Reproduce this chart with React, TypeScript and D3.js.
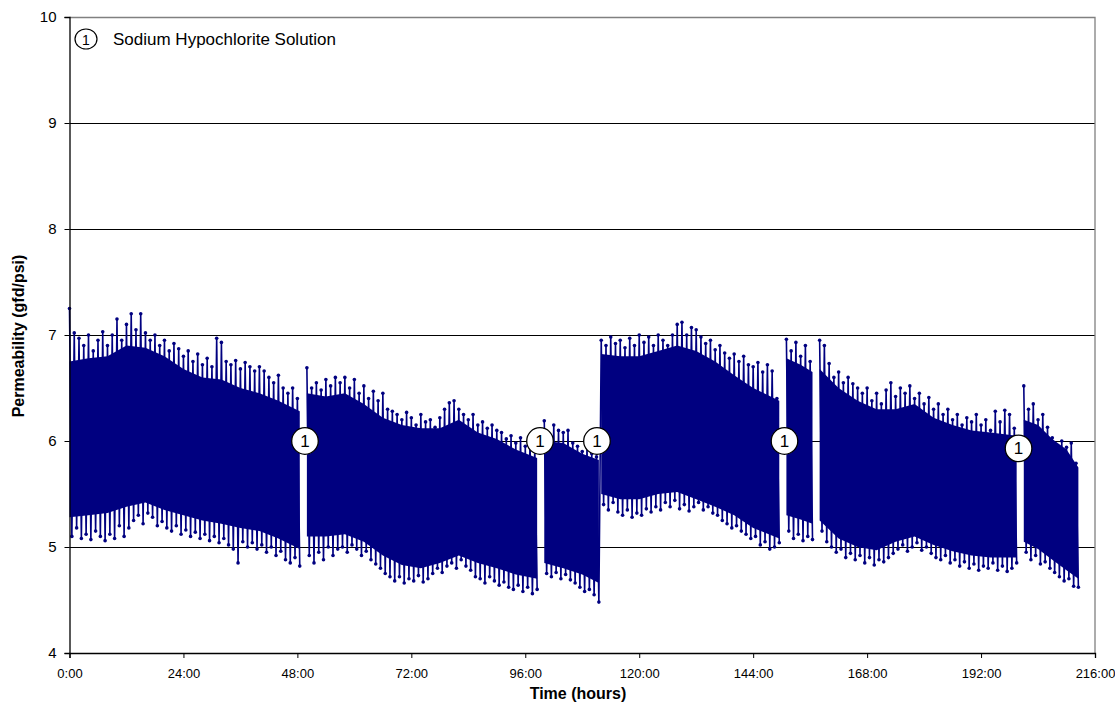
import React from 'react';
import * as d3 from 'd3';

// hourly peak / trough readings (gfd/psi), null = break in the record
const hourHigh = [
  7.25, 7.02, 6.97, 6.9, 7.0, 6.85, 6.95, 7.03, 6.9, 7.0, 7.15, 6.95,
  7.1, 7.2, 7.05, 7.2, 7.02, 6.95, 7.0, 6.9, 6.95, 6.85, 6.92, 6.87,
  6.8, 6.85, 6.75, 6.82, 6.72, 6.78, 6.7, 6.97, 6.93, 6.75, 6.72, 6.76,
  6.68, 6.74, 6.7, 6.66, 6.7, 6.66, 6.6, 6.55, 6.62, 6.5, 6.45, 6.5,
  6.4, null, 6.69, 6.5, 6.55, 6.48, 6.58, 6.52, 6.6, 6.55, 6.6, 6.5,
  6.58, 6.45, 6.52, 6.4, 6.47, 6.38, 6.45, 6.3, 6.28, 6.25, 6.2, 6.27,
  6.22, 6.15, 6.25, 6.18, 6.2, 6.13, 6.22, 6.3, 6.36, 6.38, 6.3, 6.25,
  6.2, 6.25, 6.15, 6.18, 6.12, 6.15, 6.1, 6.08, 6.02, 6.05, 5.98, 6.03,
  5.95, 6.0, 5.94, null, 6.19, 6.05, 6.15, 6.1, 6.08, 6.1, 5.98, 5.95,
  5.9, 5.95, 5.88, 5.85, 6.95, 6.9, 6.98, 6.92, 6.95, 6.88, 6.97, 6.9,
  7.0, 6.93, 6.98, 6.9, 7.0, 6.95, 6.9, 7.0, 7.1, 7.12, 7.0, 7.07,
  7.05, 6.98, 6.92, 6.95, 6.86, 6.9, 6.83, 6.78, 6.82, 6.75, 6.8, 6.72,
  6.7, 6.74, 6.65, 6.72, 6.66, 6.4, null, 6.96, 6.85, 6.93, 6.8, 6.9,
  6.75, null, 6.95, 6.9, 6.73, 6.6, 6.65, 6.55, 6.6, 6.54, 6.5, 6.45,
  6.5, 6.38, 6.45, 6.35, 6.48, 6.55, 6.42, 6.5, 6.45, 6.52, 6.4, 6.45,
  6.35, 6.41, 6.3, 6.35, 6.25, 6.3, 6.2, 6.25, 6.15, 6.22, 6.18, 6.25,
  6.15, 6.2, 6.1, 6.28, 6.18, 6.29, 6.25, 6.12, null, 6.52, 6.3, 6.35,
  6.2, 6.25, 6.13, 6.03, 5.95, 6.0, 5.94, 5.98, 5.79
];

const hourLow = [
  5.1, 5.18, 5.08, 5.12, 5.07, 5.15, 5.1, 5.06, 5.12, 5.08, 5.2, 5.1,
  5.18, 5.25, 5.3, 5.22, 5.32, 5.28, 5.2, 5.24, 5.18, 5.15, 5.2, 5.12,
  5.16, 5.1, 5.14, 5.08, 5.12, 5.06, 5.1, 5.04, 5.08, 5.02, 4.98, 4.85,
  5.05, 5.0, 5.04, 4.98, 5.02, 4.95, 5.0, 4.92, 4.96, 4.88, 4.85, 4.9,
  4.82, null, 4.92, 4.85, 4.95, 4.88, 5.0, 4.92, 4.98, 5.0, 4.95, 5.02,
  4.98, 4.92, 4.96, 4.88, 4.84, 4.8, 4.75, 4.72, 4.68, 4.72, 4.66, 4.7,
  4.68, 4.73, 4.67, 4.7, 4.75, 4.8, 4.76, 4.82, 4.85, 4.8, 4.88, 4.82,
  4.78, 4.72, 4.7, 4.66, 4.72, 4.68, 4.64, 4.67, 4.62, 4.6, 4.64, 4.58,
  4.62, 4.56, 4.6, null, 4.75, 4.72, 4.76, 4.7, 4.74, 4.69, 4.66, 4.62,
  4.58, 4.6, 4.55, 4.48, 5.4, 5.35, 5.42, 5.33, 5.3, 5.35, 5.28, 5.32,
  5.3, 5.36, 5.33, 5.38, 5.35, 5.42, 5.38, 5.44, 5.36, 5.4, 5.34, 5.38,
  5.42, 5.35, 5.38, 5.32, 5.3, 5.25, 5.22, 5.18, 5.2, 5.15, 5.12, 5.08,
  5.1, 5.02, 5.05, 4.98, 5.0, 5.04, null, 5.15, 5.08, 5.12, 5.06, 5.1,
  5.07, null, 5.15, 5.05, 5.0, 4.95, 4.98, 4.9, 4.94, 4.88, 4.92, 4.85,
  4.9, 4.83, 4.88, 4.86, 4.9, 4.94, 4.98, 5.02, 4.96, 5.0, 5.04, 4.97,
  5.0, 4.94, 4.9, 4.88, 4.92, 4.85, 4.88, 4.82, 4.86, 4.8, 4.84, 4.78,
  4.82, 4.8, 4.85, 4.78, 4.82, 4.77, 4.8, 4.85, null, 4.95, 4.88, 4.92,
  4.84, 4.86, 4.8, 4.76, 4.72, 4.68, 4.7, 4.63, 4.62
];

// the dense bulk of readings between the spikes (edge of the solid band)
const bandHours = [
  0, 4, 8, 12, 16, 20, 24, 28, 32, 36, 40, 44, 48.5, 49.2,
  50, 54, 58, 62, 66, 70, 74, 78, 82, 86, 90, 94, 98.5, 99.2,
  100, 104, 108, 111.5, 111.8,
  112, 116, 120, 124, 128, 132, 136, 140, 144, 149.5, 150.2,
  151, 154, 156.5, 157.2,
  158, 162, 166, 170, 174, 178, 182, 186, 190, 194, 199.5, 200.2,
  201, 204, 207, 210, 212.5
];
const bandTop = [
  6.75, 6.78, 6.8, 6.9, 6.88, 6.8, 6.68, 6.6, 6.58, 6.5, 6.45, 6.38, 6.28, null,
  6.45, 6.42, 6.45, 6.35, 6.22, 6.15, 6.12, 6.12, 6.2, 6.08, 6.02, 5.92, 5.84, null,
  6.0, 5.98, 5.88, 5.82, null,
  6.82, 6.8, 6.8, 6.85, 6.9, 6.85, 6.75, 6.62, 6.5, 6.38, null,
  6.78, 6.72, 6.65, null,
  6.68, 6.5, 6.38, 6.3, 6.3, 6.35, 6.22, 6.15, 6.1, 6.08, 6.05, null,
  6.2, 6.15, 6.02, 5.92, 5.75
];
const bandBottom = [
  5.28, 5.3, 5.32, 5.38, 5.42, 5.35, 5.3, 5.25, 5.22, 5.18, 5.15, 5.08, 4.98, null,
  5.1, 5.1, 5.12, 5.05, 4.92, 4.83, 4.8, 4.85, 4.92, 4.85, 4.8, 4.74, 4.7, null,
  4.85, 4.8, 4.74, 4.66, null,
  5.5, 5.45, 5.45, 5.5, 5.52, 5.45, 5.38, 5.3, 5.18, 5.08, null,
  5.3, 5.26, 5.22, null,
  5.25, 5.08, 5.0, 4.97, 5.05, 5.1, 5.02, 4.96, 4.92, 4.9, 4.9, null,
  5.05, 4.98, 4.88, 4.78, 4.7
];

// sodium hypochlorite cleanings: time (h) and label height
const cleanHours = [49.6, 99.1, 111.1, 150.6, 199.9];
const cleanLevels = [6, 6, 6, 6, 5.93];

const xTicks = [0, 24, 48, 72, 96, 120, 144, 168, 192, 216];
const yTicks = [4, 5, 6, 7, 8, 9, 10];

const FONT = 'Liberation Sans, Arial, Helvetica, sans-serif';
const NAVY = '#000080';

export default function App() {
  const ref = React.useRef<SVGSVGElement>(null);

  React.useEffect(() => {
    const svg = d3.select(ref.current);
    svg.selectAll('*').remove();

    const x = d3.scaleLinear().domain([0, 216]).range([69.5, 1095]);
    const y = d3.scaleLinear().domain([4, 10]).range([653, 17]);

    // readings: peak at the hour, trough half an hour later
    const pts: { t: number; v: number | null }[] = [];
    hourHigh.forEach((v, h) => {
      pts.push({ t: h, v });
      pts.push({ t: h + 0.5, v: hourLow[h] });
    });
    const band = bandHours.map((t, i) => ({ t, top: bandTop[i], bot: bandBottom[i] }));

    // grid
    svg.append('g')
      .selectAll('line')
      .data(yTicks.filter(d => d > 4 && d < 10))
      .enter()
      .append('line')
      .attr('x1', x(0)).attr('x2', x(216))
      .attr('y1', d => Math.round(y(d)) + 0.5).attr('y2', d => Math.round(y(d)) + 0.5)
      .attr('stroke', '#000').attr('stroke-width', 1);

    // frame top / right
    svg.append('path')
      .attr('d', `M${x(0)},${Math.round(y(10)) + 0.5}H${x(216)}V${y(4)}`)
      .attr('fill', 'none').attr('stroke', '#808080').attr('stroke-width', 1.3);

    // solid body of the trace
    const area = d3.area<{ t: number; top: number | null; bot: number | null }>()
      .defined(d => d.top != null)
      .x(d => x(d.t))
      .y0(d => y(d.bot as number))
      .y1(d => y(d.top as number));
    svg.append('path')
      .datum(band)
      .attr('d', area)
      .attr('fill', NAVY);

    // series
    const line = d3.line<{ t: number; v: number | null }>()
      .defined(d => d.v != null)
      .x(d => x(d.t))
      .y(d => y(d.v as number));

    svg.append('path')
      .datum(pts)
      .attr('d', line)
      .attr('fill', 'none')
      .attr('stroke', NAVY)
      .attr('stroke-width', 1.6)
      .attr('stroke-linejoin', 'round');

    svg.append('g')
      .selectAll('circle')
      .data(pts.filter(d => d.v != null))
      .enter()
      .append('circle')
      .attr('cx', d => x(d.t))
      .attr('cy', d => y(d.v as number))
      .attr('r', 1.8)
      .attr('fill', NAVY);

    // axes
    const yAxis = svg.append('g')
      .attr('transform', `translate(${x(0)},0)`)
      .call(d3.axisLeft(y).tickValues(yTicks).tickSize(5).tickPadding(8).tickFormat(d3.format('d')));
    yAxis.selectAll('text').attr('font-size', 15).attr('font-family', FONT).attr('fill', '#000');

    const xAxis = svg.append('g')
      .attr('transform', `translate(0,${y(4)})`)
      .call(d3.axisBottom(x).tickValues(xTicks).tickSize(5).tickPadding(11)
        .tickFormat(d => `${d}:00`));
    xAxis.selectAll('text').attr('font-size', 13).attr('font-family', FONT).attr('fill', '#000');

    [yAxis, xAxis].forEach(a => {
      a.select('.domain').attr('stroke', '#000').attr('stroke-width', 1.3);
      a.selectAll('.tick line').attr('stroke', '#000');
    });

    // axis titles
    svg.append('text')
      .attr('x', 578).attr('y', 699)
      .attr('text-anchor', 'middle')
      .attr('font-family', FONT).attr('font-size', 16).attr('font-weight', 'bold')
      .text('Time (hours)');

    svg.append('text')
      .attr('transform', 'translate(24,336) rotate(-90)')
      .attr('text-anchor', 'middle')
      .attr('font-family', FONT).attr('font-size', 16).attr('font-weight', 'bold')
      .text('Permeability (gfd/psi)');

    // cleaning markers
    const marks = svg.append('g')
      .selectAll('g')
      .data(cleanHours)
      .enter()
      .append('g')
      .attr('transform', (d, i) => `translate(${x(d)},${y(cleanLevels[i])})`);
    marks.append('circle').attr('r', 13.3).attr('fill', '#fff').attr('stroke', '#000').attr('stroke-width', 1.3);
    marks.append('text')
      .attr('text-anchor', 'middle').attr('y', 6)
      .attr('font-family', FONT).attr('font-size', 17)
      .text('1');

    // legend
    const leg = svg.append('g').attr('transform', 'translate(86,39)');
    leg.append('ellipse').attr('rx', 11).attr('ry', 10)
      .attr('fill', '#fff').attr('stroke', '#000').attr('stroke-width', 1.2);
    leg.append('text').attr('text-anchor', 'middle').attr('y', 5.5)
      .attr('font-family', FONT).attr('font-size', 14).text('1');
    leg.append('text').attr('x', 27).attr('y', 6)
      .attr('font-family', FONT).attr('font-size', 17)
      .text('Sodium Hypochlorite Solution');
  }, []);

  return (
    <svg ref={ref} width={1115} height={709}
      style={{ position: 'absolute', left: 0, top: 0, background: '#fff' }} />
  );
}
